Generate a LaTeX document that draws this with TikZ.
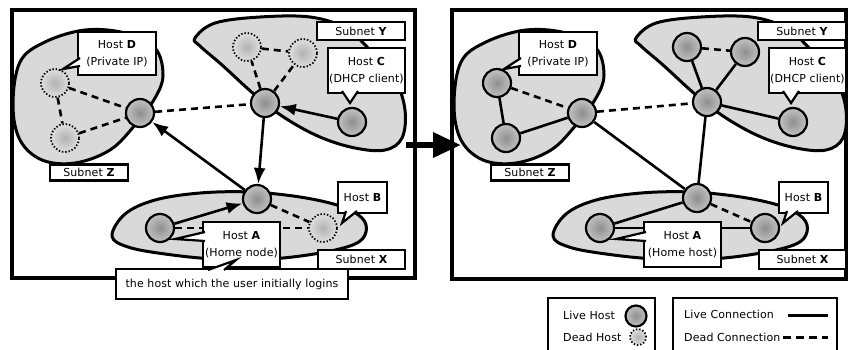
\documentclass[tikz,border=0pt]{standalone}
\usepackage{fontspec}
\setmainfont[LetterSpace=1]{DejaVu Sans}
\usetikzlibrary{arrows.meta}

\colorlet{subnetfill}{black!15}
\colorlet{liveIn}{black!44}
\colorlet{liveOut}{black!24}
\colorlet{deadIn}{black!30}
\colorlet{deadOut}{black!13}
\pgfdeclareradialshading{liveball}{\pgfpoint{0bp}{0bp}}{color(0bp)=(liveIn); color(25bp)=(liveOut); color(50bp)=(liveOut)}
\pgfdeclareradialshading{deadball}{\pgfpoint{0bp}{0bp}}{color(0bp)=(deadIn); color(25bp)=(deadOut); color(50bp)=(deadOut)}

\tikzset{
  every node/.style={font=\fontsize{11pt}{16.5pt}\selectfont},
  panel/.style={draw, line width=4.2pt},
  subnet/.style={draw, fill=subnetfill, line width=3pt, line join=round},
  livehost/.style={circle, draw, line width=2.2pt, minimum size=28pt, inner sep=0pt, shade, shading=liveball},
  deadhost/.style={circle, draw, line width=1.8pt, minimum size=28pt, inner sep=0pt, shade, shading=deadball, dash pattern=on 1.4pt off 1.9pt, line cap=butt},
  livelink/.style={line width=2.6pt},
  deadlink/.style={line width=2.6pt, dash pattern=on 7pt off 5pt},
  flow/.style={livelink, -{Latex[length=16pt,width=12pt]}},
  tag/.style={draw, fill=white, line width=2.2pt, inner sep=1pt, align=center},
  wedge/.style={draw, fill=white, line width=2.2pt, line join=miter},
  legendbox/.style={draw, line width=2.2pt},
}

% the three subnets, in panel coordinates
\newcommand\subnetshapes{%
  \draw[subnet] plot[smooth cycle, tension=0.6] coordinates {
    (13,105) (20,62) (45,42) (85,30) (125,33) (155,48) (163,75) (155,98)
    (135,125) (110,150) (75,163) (42,160) (20,140)};
  \draw[subnet] plot[smooth cycle, tension=0.6] coordinates {
    (195,38) (215,23) (260,17) (310,17) (345,28) (370,50) (395,80) (405,110)
    (402,138) (385,150) (355,148) (320,137) (285,118) (255,95) (222,65) (200,46)};
  \draw[subnet] plot[smooth cycle, tension=0.6] coordinates {
    (112,236) (125,214) (155,200) (200,193) (250,192) (300,197) (340,206)
    (362,218) (366,232) (355,244) (320,253) (270,259) (215,259) (165,254) (128,247)};
}

% subnet names and host call-outs shared by both panels
\newcommand\subnettags{%
  \node[tag, minimum width=88pt, minimum height=18pt] (tagY) at (361,31) {Subnet \textbf{Y}};
  \node[tag, minimum width=78pt, minimum height=16pt] (tagZ) at (89,172.5) {Subnet \textbf{Z}};
  \node[tag, minimum width=87pt, minimum height=19pt] (tagX) at (361.5,259.5) {Subnet \textbf{X}};
  \node[tag, minimum width=78pt, minimum height=43pt] (tagD) at (117,53.5) {Host \textbf{D}\\(Private IP)};
  \draw[wedge] (80,58) -- (63,69) -- (80,66);
  \node[tag, minimum width=77pt, minimum height=45pt] (tagC) at (366.5,70.5) {Host \textbf{C}\\(DHCP client)};
  \draw[wedge] (342,91) -- (350,103) -- (358,91);
  \node[tag, minimum width=49pt, minimum height=31pt] (tagB) at (362.5,197.5) {Host \textbf{B}};
  \draw[wedge] (346,211) -- (342,223) -- (357,211);
}

\newcommand\hometag[1]{%
  \node[tag, minimum width=77pt, minimum height=45pt] (tagA) at (241.5,244.5) {Host \textbf{A}\\(#1)};
  \draw[wedge] (205,232) -- (175,239) -- (205,241);
}

\begin{document}
\begin{tikzpicture}[x=1pt, y=-1pt]
  \useasboundingbox (0,0) rectangle (848,349);
  \clip (0,0) rectangle (848,349);

  % panel frames
  \draw[panel] (12,10) rectangle (415,278);
  \draw[panel] (452,10) rectangle (846.5,279);

  % ---------- before: home node searching ----------
  \begin{scope}[name prefix=L-]
    \subnetshapes
    \node[livehost] (zh) at (140,113) {};
    \node[deadhost] (z1) at (55,83) {};
    \node[deadhost] (z2) at (65,138) {};
    \node[livehost] (yh) at (265,103) {};
    \node[deadhost] (y1) at (247,47) {};
    \node[deadhost] (y2) at (303,53) {};
    \node[livehost] (c)  at (352,122) {};
    \node[livehost] (xh) at (257,199) {};
    \node[livehost] (a)  at (160,228) {};
    \node[deadhost] (b)  at (323,228) {};

    \draw[deadlink] (z1) -- (zh);
    \draw[deadlink] (z1) -- (z2);
    \draw[deadlink] (z2) -- (zh);
    \draw[deadlink] (zh) -- (yh);
    \draw[deadlink] (yh) -- (y1);
    \draw[deadlink] (yh) -- (y2);
    \draw[deadlink] (y1) -- (y2);
    \draw[deadlink] (a) -- (b);
    \draw[deadlink] (xh) -- (b);
    \draw[flow] (c) -- (yh);
    \draw[flow] (yh) -- (xh);
    \draw[flow] (xh) -- (zh);
    \draw[flow] (a) -- (xh);

    \subnettags
    \hometag{Home node}
    \node[tag, minimum width=232pt, minimum height=30pt] (note) at (232,284) {the host which the user initially logins};
    \draw[wedge] (208,270) -- (236,260) -- (224,270);
  \end{scope}

  % ---------- after: all hosts reachable ----------
  \begin{scope}[xshift=441pt, name prefix=R-]
    \subnetshapes
    \node[livehost] (zh) at (141,113) {};
    \node[livehost] (z1) at (56,83) {};
    \node[livehost] (z2) at (65,138) {};
    \node[livehost] (yh) at (266,102) {};
    \node[livehost] (y1) at (246,47) {};
    \node[livehost] (y2) at (304,52) {};
    \node[livehost] (c)  at (352,122) {};
    \node[livehost] (xh) at (256,198) {};
    \node[livehost] (a)  at (159,228) {};
    \node[livehost] (b)  at (324,228) {};

    \draw[deadlink] (z1) -- (zh);
    \draw[livelink] (z1) -- (z2);
    \draw[livelink] (z2) -- (zh);
    \draw[deadlink] (zh) -- (yh);
    \draw[livelink] (zh) -- (xh);
    \draw[livelink] (yh) -- (y1);
    \draw[livelink] (yh) -- (y2);
    \draw[deadlink] (y1) -- (y2);
    \draw[livelink] (yh) -- (c);
    \draw[livelink] (yh) -- (xh);
    \draw[livelink] (xh) -- (a);
    \draw[deadlink] (xh) -- (b);
    \draw[livelink] (a) -- (b);

    \subnettags
    \hometag{Home host}
  \end{scope}

  % transition arrow between the panels
  \coordinate (stepFrom) at (406,145);
  \coordinate (stepTo) at (461,145);
  \draw[line width=6.5pt, -{Triangle[length=28pt,width=24pt]}] (stepFrom) -- (stepTo);

  % legend
  \draw[legendbox] (548,298) rectangle (655,356);
  \node[anchor=west, inner sep=0pt] (liveHostText) at (563,315) {Live Host};
  \node[livehost, minimum size=21pt] (liveHostMark) at (636,316) {};
  \node[anchor=west, inner sep=0pt] (deadHostText) at (563,337) {Dead Host};
  \node[deadhost, minimum size=16pt] (deadHostMark) at (638,337) {};

  \draw[legendbox] (673,298) rectangle (837,356);
  \node[anchor=west, inner sep=0pt] (liveLinkText) at (684,314) {Live Connection};
  \coordinate (liveLinkA) at (788,315);
  \coordinate (liveLinkB) at (828,315);
  \draw[line width=3pt] (liveLinkA) -- (liveLinkB);
  \node[anchor=west, inner sep=0pt] (deadLinkText) at (684,337) {Dead Connection};
  \coordinate (deadLinkA) at (783,337);
  \coordinate (deadLinkB) at (828,337);
  \draw[line width=3pt, dash pattern=on 8pt off 5pt] (deadLinkA) -- (deadLinkB);
\end{tikzpicture}
\end{document}
